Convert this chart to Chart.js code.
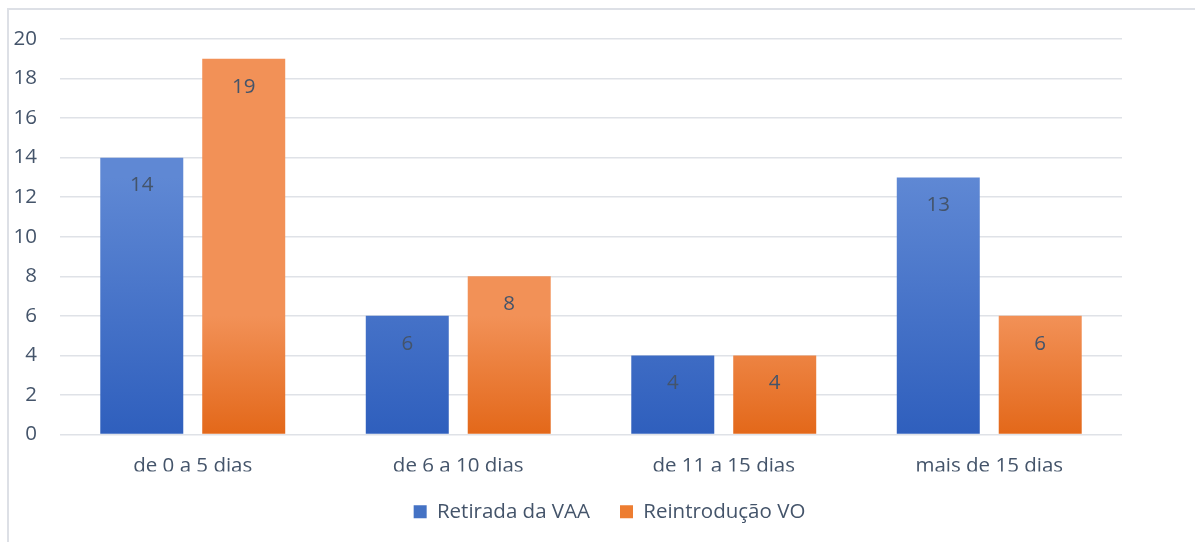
<!DOCTYPE html>
<html>
<head>
<meta charset="utf-8">
<script src="https://cdn.jsdelivr.net/npm/chart.js@4"></script>
<style>
  html, body { margin: 0; padding: 0; background: #fff; }
  #wrap { width: 1195px; height: 542px; position: relative; }
</style>
</head>
<body>
<div id="wrap"><canvas id="myChart" width="1195" height="542"></canvas></div>
<script>
// chart data
const categories = ["de 0 a 5 dias", "de 6 a 10 dias", "de 11 a 15 dias", "mais de 15 dias"];
const retiradaVAA = [14, 6, 4, 13];
const reintroducaoVO = [19, 8, 4, 6];
const yTicks = [0, 2, 4, 6, 8, 10, 12, 14, 16, 18, 20];

const textColor = "#44546a";
const fontFam = "'Open Sans', sans-serif";
const fontSize = 20.5;

// gradient per bar, light at top and dark at the base
const gradients = {
  0: ["#5f88d4", "#2f5fbd"],
  1: ["#f29157", "#e3681a"]
};

const barGradient = {
  id: "barGradient",
  beforeDatasetsDraw(chart) {
    const ctx = chart.ctx;
    chart.data.datasets.forEach((ds, i) => {
      const meta = chart.getDatasetMeta(i);
      meta.data.forEach(bar => {
        const g = ctx.createLinearGradient(0, bar.y, 0, bar.base);
        g.addColorStop(0, gradients[i][0]);
        g.addColorStop(1, gradients[i][1]);
        bar.options.backgroundColor = g;
      });
    });
  }
};

// value labels inside the top of each bar
const barLabels = {
  id: "barLabels",
  afterDatasetsDraw(chart) {
    const ctx = chart.ctx;
    ctx.save();
    ctx.font = fontSize + "px " + fontFam;
    ctx.fillStyle = textColor;
    ctx.textAlign = "center";
    ctx.textBaseline = "middle";
    chart.data.datasets.forEach((ds, i) => {
      chart.getDatasetMeta(i).data.forEach((bar, j) => {
        ctx.fillText(ds.data[j], bar.x, bar.y + 28);
      });
    });
    ctx.restore();
  }
};

// light frame on top and left
const frame = {
  id: "frame",
  beforeDraw(chart) {
    const ctx = chart.ctx;
    ctx.save();
    ctx.strokeStyle = "#dde0e6";
    ctx.lineWidth = 2;
    ctx.beginPath();
    ctx.moveTo(1195, 9);
    ctx.lineTo(8, 9);
    ctx.lineTo(8, 542);
    ctx.stroke();
    ctx.restore();
  }
};

// nudge the legend a bit to the right, like in the original
const legendShift = {
  id: "legendShift",
  afterLayout(chart) {
    if (chart.legend) {
      chart.legend.left += 12;
      chart.legend.right += 12;
    }
  }
};

const ctx = document.getElementById("myChart");
new Chart(ctx, {
  type: "bar",
  data: {
    labels: categories,
    datasets: [{
      label: "Retirada da VAA",
      data: retiradaVAA,
      backgroundColor: "#4472c4"
    }, {
      label: "Reintrodução VO",
      data: reintroducaoVO,
      backgroundColor: "#ed7d31"
    }]
  },
  options: {
    responsive: false,
    animation: false,
    layout: { padding: { top: 39, right: 0, bottom: 10, left: 0 } },
    datasets: { bar: { categoryPercentage: 0.768, barPercentage: 0.814 } },
    plugins: {
      legend: {
        position: "bottom",
        labels: {
          color: textColor,
          font: { size: fontSize, family: fontFam },
          boxWidth: 13,
          boxHeight: 13,
          padding: 30
        }
      },
      tooltip: { enabled: false }
    },
    scales: {
      x: {
        grid: { display: false, drawTicks: false },
        border: { display: false },
        ticks: { color: textColor, font: { size: fontSize, family: fontFam }, padding: 19 },
        afterFit(scale) { scale.height = 37; }
      },
      y: {
        min: 0,
        max: 20,
        afterBuildTicks(scale) { scale.ticks = yTicks.map(v => ({ value: v })); },
        grid: { color: "#dfe2e7", lineWidth: 1.5, drawTicks: false },
        border: { display: false },
        ticks: { color: textColor, font: { size: fontSize, family: fontFam }, padding: 23 },
        afterFit(scale) { scale.width = 60; }
      },
      // empty right margin
      yRight: {
        position: "right",
        grid: { display: false, drawTicks: false },
        border: { display: false },
        ticks: { display: false },
        afterFit(scale) { scale.width = 73; }
      }
    }
  },
  plugins: [frame, barGradient, barLabels, legendShift]
});
</script>
</body>
</html>
